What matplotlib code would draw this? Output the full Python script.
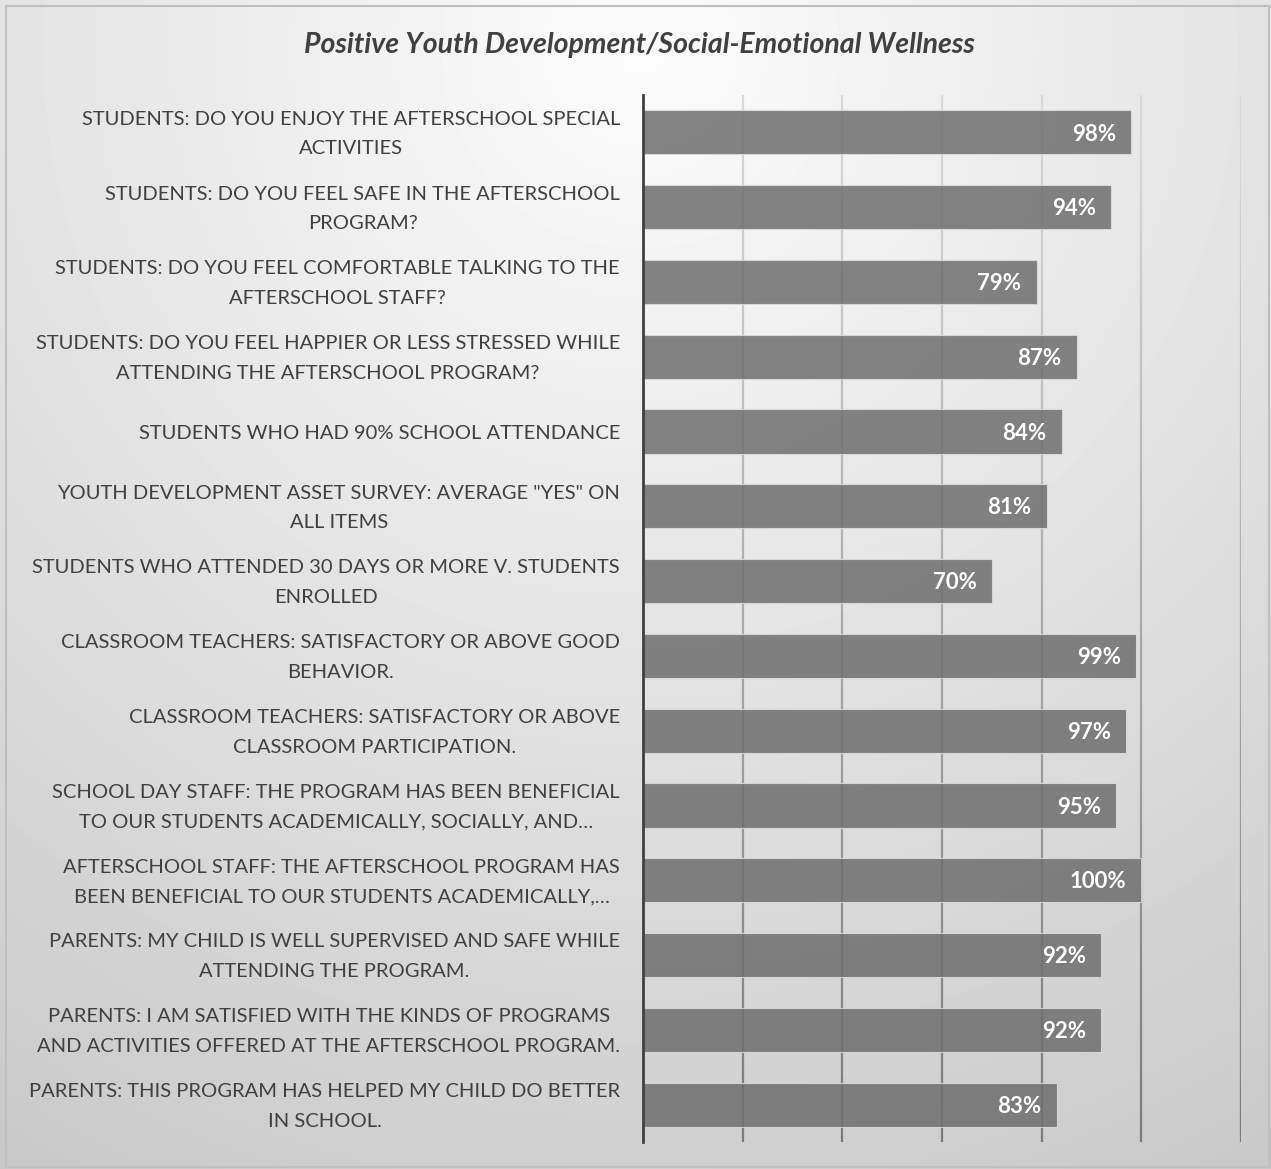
import numpy as np
import matplotlib
matplotlib.use("Agg")
import matplotlib.pyplot as plt
from matplotlib.collections import LineCollection
from matplotlib.patches import Rectangle

# data
labels = [
    "STUDENTS: DO YOU ENJOY THE AFTERSCHOOL SPECIAL\nACTIVITIES",
    "STUDENTS: DO YOU FEEL SAFE IN THE AFTERSCHOOL\nPROGRAM?",
    "STUDENTS: DO YOU FEEL COMFORTABLE TALKING TO THE\nAFTERSCHOOL STAFF?",
    "STUDENTS: DO YOU FEEL HAPPIER OR LESS STRESSED WHILE\nATTENDING THE AFTERSCHOOL PROGRAM?",
    "STUDENTS WHO HAD 90% SCHOOL ATTENDANCE",
    "YOUTH DEVELOPMENT ASSET SURVEY: AVERAGE \"YES\" ON\nALL ITEMS",
    "STUDENTS WHO ATTENDED 30 DAYS OR MORE V. STUDENTS\nENROLLED",
    "CLASSROOM TEACHERS: SATISFACTORY OR ABOVE GOOD\nBEHAVIOR.",
    "CLASSROOM TEACHERS: SATISFACTORY OR ABOVE\nCLASSROOM PARTICIPATION.",
    "SCHOOL DAY STAFF: THE PROGRAM HAS BEEN BENEFICIAL\nTO OUR STUDENTS ACADEMICALLY, SOCIALLY, AND\u2026",
    "AFTERSCHOOL STAFF: THE AFTERSCHOOL PROGRAM HAS\nBEEN BENEFICIAL TO OUR STUDENTS ACADEMICALLY,\u2026",
    "PARENTS: MY CHILD IS WELL SUPERVISED AND SAFE WHILE\nATTENDING THE PROGRAM.",
    "PARENTS: I AM SATISFIED WITH THE KINDS OF PROGRAMS\nAND ACTIVITIES OFFERED AT THE AFTERSCHOOL PROGRAM.",
    "PARENTS: THIS PROGRAM HAS HELPED MY CHILD DO BETTER\nIN SCHOOL.",
]
values = [98, 94, 79, 87, 84, 81, 70, 99, 97, 95, 100, 92, 92, 83]
grid_x = [20, 40, 60, 80, 100, 120]
title = "Positive Youth Development/Social-Emotional Wellness"

plt.rcParams['font.family'] = ['Lato', 'DejaVu Sans']

W, H = 1271, 1169
fig = plt.figure(figsize=(W / 100, H / 100), dpi=100)

# background gradient + border
bg = fig.add_axes([0, 0, 1, 1], zorder=-1)
yy, xx = np.mgrid[0:H, 0:W]
d = np.hypot(xx - 640, yy - 50)
shade = np.clip(252 - 0.04 * d, 0, 255) / 255
bg.imshow(shade, cmap='gray', vmin=0, vmax=1, extent=[0, 1, 0, 1],
          aspect='auto', origin='upper', interpolation='bilinear')
bg.add_patch(Rectangle((6 / W, 1 - 1167 / H), 1263 / W, 1161 / H,
                       fill=False, edgecolor='#bfbfbf', lw=1.5))
bg.set_xlim(0, 1)
bg.set_ylim(0, 1)
bg.axis('off')

ax = fig.add_axes([643 / W, 1 - 1142 / H, (1241 - 643) / W, (1142 - 95) / H])
ax.patch.set_alpha(0)
n = len(values)
y = np.arange(n)
ax.set_xlim(0, 120)
ax.set_ylim(n - 0.5, -0.5)

# gridlines, light at top to darker at bottom
ys = np.linspace(-0.5, n - 0.5, 80)
segs, cols = [], []
for gx in grid_x:
    for k in range(len(ys) - 1):
        segs.append([(gx, ys[k]), (gx, ys[k + 1])])
        t = (k + 0.5) / (len(ys) - 1)
        g = (218 - 96 * t) / 255
        cols.append((g, g, g))
ax.add_collection(LineCollection(segs, colors=cols, linewidths=1.6, zorder=1))

bars = ax.barh(y, values, height=0.59, color='#6e6e6e', alpha=0.85,
               edgecolor='#dedede', linewidth=0.8, zorder=3)

for i, v in enumerate(values):
    ax.annotate(f"{v}%", (v, i), xytext=(-11, -1.2), textcoords='offset points',
                ha='right', va='center', color='white', fontweight='bold',
                fontsize=16, zorder=4)

# category labels
for i, lab in enumerate(labels):
    ax.annotate(lab, (0, i), xycoords=ax.get_yaxis_transform(),
                xytext=(-16.5, -1.2), textcoords='offset points',
                ha='right', va='center', multialignment='center',
                linespacing=1.9, fontsize=14.5, color='#404040',
                annotation_clip=False)

ax.set_yticks([])
ax.set_xticks([])
for s in ['top', 'right', 'bottom']:
    ax.spines[s].set_visible(False)
ax.spines['left'].set_color('#404040')
ax.spines['left'].set_linewidth(2)
ax.spines['left'].set_zorder(5)

fig.text(639.5 / W, 1 - 45 / H, title, ha='center', va='center',
         fontsize=20.5, fontweight='bold', style='italic', color='#404040')

fig.savefig('out.png', dpi=100)
